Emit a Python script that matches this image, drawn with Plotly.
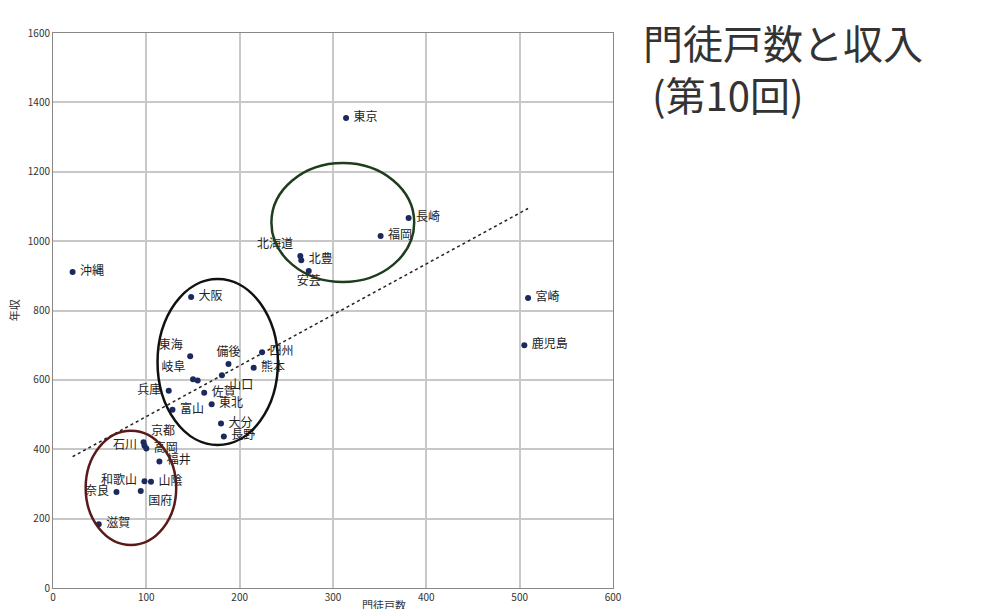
import numpy as np
import plotly.graph_objects as go

names = ["沖縄","東京","長崎","福岡","北海道","北豊","安芸","宮崎","鹿児島","大阪",
         "東海","備後","四州","熊本","山口","岐阜","岐阜2","兵庫","佐賀","東北","富山","大分","長野",
         "京都","石川","高岡","福井","和歌山","山陰","国府","奈良","滋賀"]
households = [21,314,381,351,265,266,274,509,505,148,
              147,188,224,215,181,150,155,124,162,170,128,180,183,
              97,98,100,114,98,105,94,68,49]
income = [911,1355,1067,1015,957,945,914,836,700,839,
          668,646,680,635,613,602,598,569,563,530,514,474,437,
          420,410,402,365,308,306,280,277,184]
positions = ["middle right","middle right","middle right","middle right","top left","middle right","bottom center",
             "middle right","middle right","middle right",
             "top left","top center","middle right","middle right","bottom right","top left","middle right",
             "middle left","middle right","middle right","middle right","middle right","middle right",
             "top right","middle left","middle right","middle right","middle left","middle right","bottom right",
             "middle left","middle right"]
labels = [("" if n == "岐阜2" else " " + n + " ") for n in names]

x = np.array(households, float); y = np.array(income, float)
m, b = np.polyfit(x, y, 1)
tx = np.array([x.min(), x.max()])

font = "Noto Sans CJK JP"
fig = go.Figure()
fig.add_trace(go.Scatter(x=tx, y=m*tx+b, mode="lines",
                         line=dict(color="#222", width=1.5, dash="dot"), hoverinfo="skip"))
fig.add_trace(go.Scatter(x=households, y=income, mode="markers+text", text=labels,
                         textposition=positions, textfont=dict(size=12, color="#222", family=font),
                         marker=dict(size=6, color="#1b2a5e")))

fig.add_shape(type="circle", xref="x", yref="y", x0=234, x1=387, y0=882, y1=1225,
              line=dict(color="#1e3d1e", width=2.5))
fig.add_shape(type="circle", xref="x", yref="y", x0=112, x1=241, y0=412, y1=891,
              line=dict(color="#111", width=2.5))
fig.add_shape(type="circle", xref="x", yref="y", x0=35, x1=132, y0=124, y1=453,
              line=dict(color="#5a1a1a", width=2.5))

fig.add_annotation(xref="paper", yref="paper", x=1.05, y=1.04, xanchor="left", yanchor="top",
                   text="門徒戸数と収入<br> (第10回)", showarrow=False, align="left",
                   font=dict(size=40, color="#333", family=font))
fig.add_annotation(xref="x", yref="paper", x=355, y=-0.012, yanchor="top", showarrow=False,
                   text="門徒戸数", font=dict(size=11, color="#333", family=font))
fig.add_annotation(xref="paper", yref="y", x=-0.07, y=800, xanchor="center", showarrow=False,
                   text="年収", textangle=-90, font=dict(size=11, color="#333", family=font))

axis = dict(showgrid=True, gridcolor="#c8c8c8", gridwidth=1.5, zeroline=False,
            showline=True, linecolor="#888", mirror=True, ticks="", automargin=False,
            tickfont=dict(size=10, color="#333", family=font))
fig.update_layout(width=1000, height=609, margin=dict(l=45, r=395, t=25, b=29),
                  plot_bgcolor="white", paper_bgcolor="white", showlegend=False,
                  xaxis=dict(axis, range=[0, 600], dtick=100),
                  yaxis=dict(axis, range=[0, 1600], dtick=200))
fig.write_html("out.html")
